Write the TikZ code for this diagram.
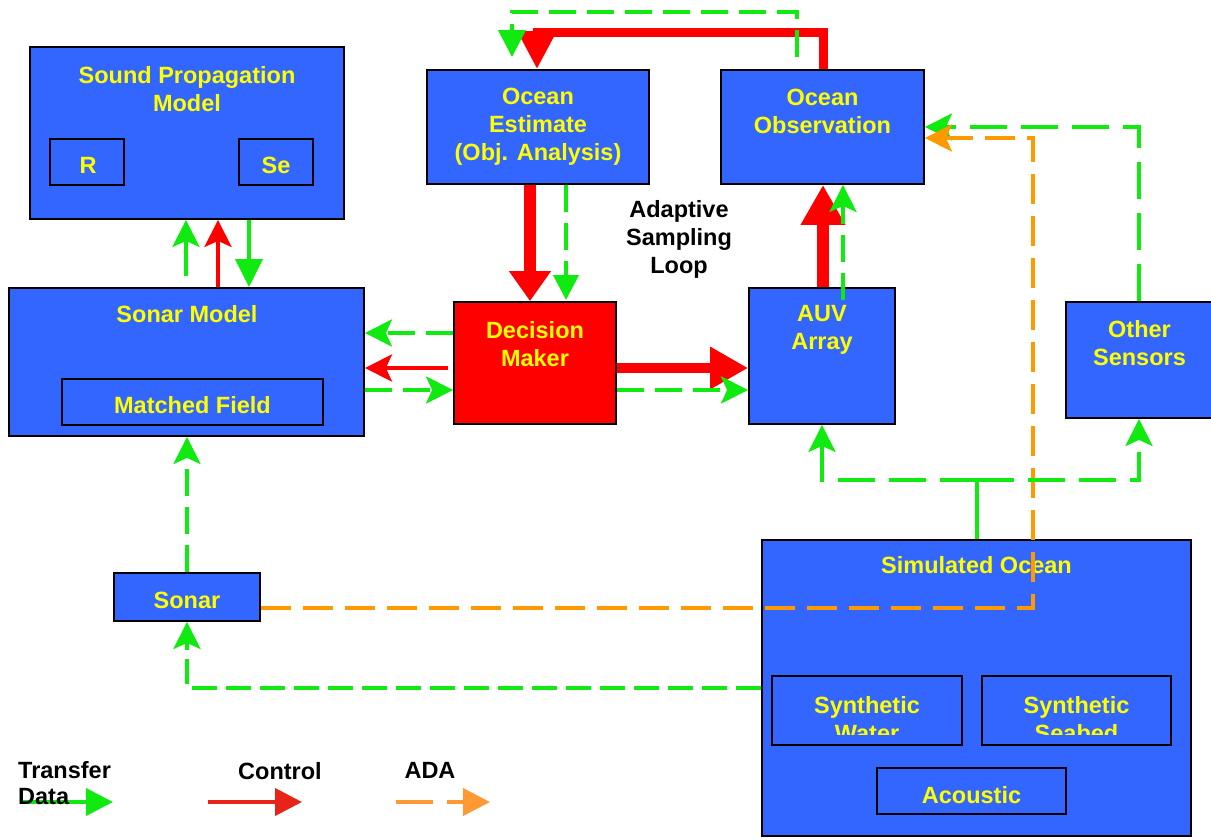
\documentclass[tikz,border=0pt]{standalone}
\usepackage{fontspec}
\setmainfont{Liberation Sans}
\usetikzlibrary{arrows.meta}
\definecolor{boxblue}{HTML}{3366FF}
\definecolor{tyellow}{HTML}{FFFF00}
\definecolor{tgreen}{HTML}{10EA10}
\definecolor{tred}{HTML}{FF0000}
\definecolor{torange}{HTML}{FF9900}
\definecolor{lred}{HTML}{E82418}
\definecolor{lorange}{HTML}{FF9933}
\tikzset{
  box/.style={draw=black, line width=1.8pt, fill=boxblue, inner sep=0pt},
  redbox/.style={box, fill=tred},
  txt/.style={font=\fontsize{23.5}{28}\selectfont\bfseries, text=tyellow, align=center, inner sep=0pt},
  btxt/.style={txt, text=black},
  gline/.style={draw=tgreen, line width=4pt},
  gdash/.style={gline, dash pattern=on 27pt off 11pt},
  glong/.style={gline, dash pattern=on 37pt off 14pt},
  rline/.style={draw=tred, line width=4pt},
  rthick/.style={draw=tred, line width=10pt},
  odash/.style={draw=torange, line width=4pt, dash pattern=on 30pt off 12pt},
  gtip/.tip={Stealth[length=27pt,width=27pt,inset=6pt]},
  rtip/.tip={Stealth[length=27pt,width=27pt,inset=6pt]},
}
\begin{document}
\begin{tikzpicture}[x=1pt,y=-1pt]
\useasboundingbox (0,0) rectangle (1211,839);
% boxes
\node[box, minimum width=314pt, minimum height=172pt] (spm) at (187,133) {};
\node[box, minimum width=74pt, minimum height=46pt] (r) at (87,162) {};
\node[box, minimum width=74pt, minimum height=46pt] (se) at (276,162) {};
\node[box, minimum width=222pt, minimum height=114pt] (oe) at (538,127) {};
\node[box, minimum width=203pt, minimum height=114pt] (oo) at (822.5,127) {};
\node[box, minimum width=355pt, minimum height=148pt] (sm) at (186.5,362) {};
\node[box, minimum width=261pt, minimum height=46pt] (mf) at (192.5,402) {};
\node[redbox, minimum width=162pt, minimum height=122pt] (dm) at (535,363) {};
\node[box, minimum width=146pt, minimum height=136pt] (auv) at (822,356) {};
\node[box, minimum width=148pt, minimum height=116pt] (os) at (1140,360) {};
\node[box, minimum width=429pt, minimum height=296pt] (so) at (976.5,688) {};
\node[box, minimum width=190pt, minimum height=69pt] (sw) at (867,710.5) {};
\node[box, minimum width=189pt, minimum height=69pt] (sb) at (1076.5,710.5) {};
\node[box, minimum width=189pt, minimum height=46pt] (ac) at (971.5,791) {};
\node[box, minimum width=146pt, minimum height=48pt] (sonar) at (187,597) {};
% texts
\node[txt] (spmt) at (187,89) {Sound Propagation\\Model};
\node[txt] (rt) at (88,165) {R};
\node[txt] (set) at (276,165) {Se};
\node[txt] (oet) at (538,127) {Ocean\\Estimate\\(Obj. Analysis)};
\node[txt] (oot) at (822.5,111) {Ocean\\Observation};
\node[txt] (smt) at (187,314) {Sonar Model};
\node[txt] (mft) at (192.5,405) {Matched Field};
\node[txt] (dmt) at (535,344) {Decision\\Maker};
\node[txt] (auvt) at (822,330) {AUV\\Array};
\node[txt] (ost) at (1139.5,343) {Other\\Sensors};
\node[txt] (sot) at (976.5,565) {Simulated Ocean};
\begin{scope}
\clip (770,676) rectangle (1175,734);
\node[txt] (swt) at (867,719) {Synthetic\\Water};
\node[txt] (sbt) at (1076.5,719) {Synthetic\\Seabed};
\end{scope}
\node[txt] (act) at (971.5,795) {Acoustic};
\node[txt] (sonart) at (187,600) {Sonar};
\node[btxt] (asl) at (679,239) {Adaptive\\Sampling\\Loop};
% connectors
\draw[gline, -{gtip}, shorten <=11pt] (186,0 |- sm.north) -- (186,0 |- spm.south);
\draw[rline, -{rtip}] (218,0 |- sm.north) -- (218,0 |- spm.south);
\draw[gline, -{Triangle[length=28pt,width=27pt]}] (249,0 |- spm.south) -- (249,0 |- sm.north);
\draw[rthick, line width=12pt, -{Triangle[length=30pt,width=40pt]}] (530,0 |- oe.south) -- (530,0 |- dm.north);
\draw[gdash, -{Triangle[length=25pt,width=25pt]}] (566,0 |- oe.south) -- (566,300);
\draw[gdash, -{gtip}] (dm.west |- 0,333) -- (sm.east |- 0,333);
\draw[rline, -{rtip}] (448,368) -- (sm.east |- 0,368);
\draw[gdash, -{gtip}] (sm.east |- 0,390) -- (dm.west |- 0,390);
\draw[rthick, -{Triangle[length=38pt,width=40pt]}] (dm.east |- 0,368) -- (auv.west |- 0,368);
\draw[gdash, -{gtip}] (dm.east |- 0,390) -- (auv.west |- 0,390);
\draw[rthick, line width=12pt, -{Triangle[length=40pt,width=42pt]}] (823,0 |- auv.north) -- (823,0 |- oo.south);
\draw[gdash, -{gtip}] (843,300) -- (843,0 |- oo.south);
\draw[rthick, line width=9pt, -{Triangle[length=38pt,width=37pt]}] (823,0 |- oo.north) |- (537,32) -- (537,0 |- oe.north);
\draw[gdash, -{Triangle[length=27pt,width=27pt]}, shorten <=12pt, shorten >=12pt] (797,0 |- oo.north) |- (512,12) -- (512,0 |- oe.north);
\draw[glong, -{gtip}] (os.north -| 1139,0) |- (oo.east);
\draw[odash, -{gtip}] (sonar.east |- 0,608) -| (1033,138) -- (oo.east |- 0,138);
\coordinate (j) at (977,480);
\draw[gline] (977,0 |- so.north) -- (j);
\draw[glong, -{gtip}] (j) -| (auv.south);
\draw[glong, -{gtip}] (j) -| (os.south -| 1139,0);
\draw[gdash, dash pattern=on 25pt off 9pt, -{gtip}] (so.west |- 0,688) -| (sonar.south);
\draw[gdash, -{gtip}] (sonar.north) -- (sonar.north |- sm.south);
% legend
\coordinate (lg1) at (20,802); \coordinate (lg2) at (113,802);
\coordinate (lr1) at (208,802); \coordinate (lr2) at (302,802);
\coordinate (lo1) at (396,802); \coordinate (lo2) at (490,802);
\draw[gline, -{Triangle[length=27pt,width=27pt]}] (lg1) -- (lg2);
\draw[draw=lred, line width=4pt, -{Triangle[length=27pt,width=27pt]}] (lr1) -- (lr2);
\draw[draw=lorange, line width=4pt, dash pattern=on 37pt off 14pt, -{Triangle[length=27pt,width=27pt]}] (lo1) -- (lo2);
\node[btxt, anchor=west] (ltr) at (18,770) {Transfer};
\node[btxt, anchor=west] (lda) at (18,797) {Data};
\node[btxt] (lco) at (280,771) {Control};
\node[btxt] (lad) at (430,770) {ADA};
\end{tikzpicture}
\end{document}
